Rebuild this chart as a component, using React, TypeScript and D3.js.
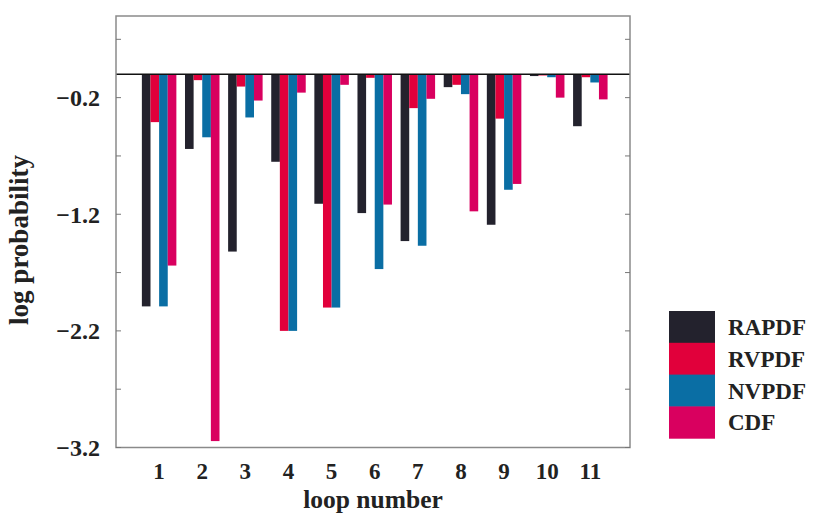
import React from "react";
import * as d3 from "d3";

const loops = [1, 2, 3, 4, 5, 6, 7, 8, 9, 10, 11];
const seriesNames = ["RAPDF", "RVPDF", "NVPDF", "CDF"];
const rapdf = [-1.99, -0.64, -1.52, -0.75, -1.11, -1.19, -1.43, -0.11, -1.29, -0.015, -0.445];
const rvpdf = [-0.41, -0.05, -0.105, -2.2, -2.0, -0.03, -0.29, -0.09, -0.38, -0.01, -0.025];
const nvpdf = [-1.99, -0.54, -0.37, -2.2, -2.0, -1.67, -1.47, -0.17, -0.99, -0.025, -0.07];
const cdf = [-1.64, -3.145, -0.225, -0.157, -0.09, -1.117, -0.21, -1.175, -0.94, -0.2, -0.215];
const yTicks = [0.3, -0.2, -0.7, -1.2, -1.7, -2.2, -2.7, -3.2];
const yLabels = [-0.2, -1.2, -2.2, -3.2];
const colors = ["#23222d", "#e1003b", "#0a6ea4", "#d9005f"];

export default function App() {
  const W = 819, H = 517;
  const left = 116, right = 630, top = 16, bottom = 447.5;
  const x = d3.scaleLinear().domain([0, 11.92]).range([left, right]);
  const y = d3.scaleLinear().domain([0.5, -3.2]).range([top, bottom]);
  const step = x(1) - x(0);
  const bw = step * 0.2;
  const series = [rapdf, rvpdf, nvpdf, cdf];
  const font = "'Liberation Serif', 'Times New Roman', serif";
  const fmt = (v: number) => (v < 0 ? "\u2212" : "") + Math.abs(v).toFixed(1);

  return (
    <svg width={W} height={H} style={{ position: "absolute", left: 0, top: 0 }} fontFamily={font}>
      <rect x={0} y={0} width={W} height={H} fill="#fff" />
      {series.map((vals, j) =>
        vals.map((v, i) => {
          const x0 = x(loops[i]) - 2 * bw + j * bw;
          return (
            <rect key={`${j}-${i}`} x={x0} y={y(0)} width={bw} height={y(v) - y(0)} fill={colors[j]} />
          );
        })
      )}
      <line x1={left} x2={right} y1={y(0)} y2={y(0)} stroke="#111" strokeWidth={1.5} />
      <rect x={left} y={top} width={right - left} height={bottom - top} fill="none" stroke="#8a8a8a" strokeWidth={1.5} />
      {yTicks.map((t) => (
        <g key={t}>
          <line x1={left} x2={left + 5} y1={y(t)} y2={y(t)} stroke="#777" strokeWidth={1} />
          <line x1={right - 5} x2={right} y1={y(t)} y2={y(t)} stroke="#777" strokeWidth={1} />
        </g>
      ))}
      {yLabels.map((t) => (
        <text key={t} x={100} y={y(t)} dy="0.35em" textAnchor="end" fontSize={24} fontWeight="bold" fill="#222">
          {fmt(t)}
        </text>
      ))}
      {loops.map((l) => (
        <text key={l} x={x(l)} y={471} dy="0.35em" textAnchor="middle" fontSize={23} fontWeight="bold" fill="#222">
          {l}
        </text>
      ))}
      <text x={(left + right) / 2} y={508} textAnchor="middle" fontSize={25.5} fontWeight="bold" fill="#222">
        loop number
      </text>
      <text transform={`translate(28,240) rotate(-90)`} textAnchor="middle" fontSize={27} fontWeight="bold" fill="#222">
        log probability
      </text>
      {seriesNames.map((n, j) => {
        const sh = 31.8;
        const sy = 311 + j * sh;
        return (
          <g key={n}>
            <rect x={669} y={sy} width={46} height={sh + 0.5} fill={colors[j]} />
            <text x={728} y={sy + sh / 2} dy="0.35em" fontSize={23} fontWeight="bold" fill="#222">
              {n}
            </text>
          </g>
        );
      })}
    </svg>
  );
}
